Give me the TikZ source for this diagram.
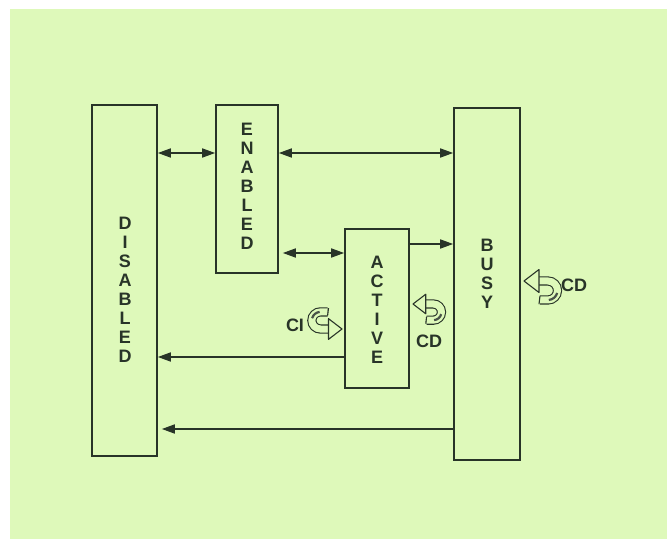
\documentclass[tikz,border=0pt]{standalone}
\usepackage{fontspec}
\setmainfont{Liberation Sans}
\usetikzlibrary{arrows.meta}
\definecolor{bg}{RGB}{222,249,186}
\definecolor{ink}{RGB}{40,52,40}
\tikzset{
  statebox/.style={draw=ink, line width=1.6pt, rectangle, inner sep=0pt},
  letters/.style={text=ink, align=center, font=\fontsize{18}{19}\selectfont\bfseries},
  lbl/.style={text=ink, font=\fontsize{18}{19}\selectfont\bfseries},
  conn/.style={draw=ink, line width=1.6pt},
  tipb/.style={-{Triangle[length=13pt,width=9pt]}},
  tipbb/.style={{Triangle[length=13pt,width=9pt]}-{Triangle[length=13pt,width=9pt]}},
  hook/.pic={
    \draw[ink, line width=1.1pt, double=bg, double distance=7pt] (13,0) -- (24,0) arc[start angle=90,end angle=-90,radius=9.5] -- (16,-19);
    \draw[ink, line width=1.1pt] (16,-14.8) -- (15,-23.2);
    \draw[ink!85, line width=2.2pt] (24,-9.5) ++(-15:9.5) arc[start angle=-15,end angle=-85,radius=9.5];
    \filldraw[ink, fill=bg, line width=1.1pt, line join=round] (0,0) -- (15,11.5) -- (15,-11.5) -- cycle;
  }
}
\begin{document}
\begin{tikzpicture}[x=1pt,y=1pt]
\useasboundingbox (0,0) rectangle (667,539);
\fill[white] (0,0) rectangle (667,539);
\fill[bg] (10,0) rectangle (667,530);

\node[statebox, minimum width=65pt, minimum height=351pt] (dis) at (124.5,258.5) {};
\node[statebox, minimum width=62pt, minimum height=168pt] (en) at (247,350) {};
\node[statebox, minimum width=64pt, minimum height=159pt] (act) at (377,230.5) {};
\node[statebox, minimum width=66pt, minimum height=352pt] (busy) at (487,255) {};

\node[letters] (tdis) at (125,249) {D\\I\\S\\A\\B\\L\\E\\D};
\node[letters] (ten) at (247,353) {E\\N\\A\\B\\L\\E\\D};
\node[letters] (tact) at (377,229.5) {A\\C\\T\\I\\V\\E};
\node[letters] (tbusy) at (487,265) {B\\U\\S\\Y};

\draw[conn, tipbb] (dis.east |- 0,386) -- (en.west |- 0,386);
\draw[conn, tipbb] (en.east |- 0,386) -- (busy.west |- 0,386);
\draw[conn, tipbb] ([xshift=4pt]en.east |- 0,286) -- (act.west |- 0,286);
\draw[conn, tipb] (act.east |- 0,295) -- (busy.west |- 0,295);
\draw[conn, tipb] (act.west |- 0,182) -- (dis.east |- 0,182);
\draw[conn, tipb] (busy.west |- 0,110) -- ([xshift=4pt]dis.east |- 0,110);

\node[lbl] (ci) at (295,214) {CI};
\node[lbl] (cd1) at (429,198) {CD};
\node[lbl] (cd2) at (574,254) {CD};

\pic[rotate=180, scale=0.9] at (342,210) {hook};
\pic[scale=0.85] at (413,235) {hook};
\pic at (524,258) {hook};
\end{tikzpicture}
\end{document}
